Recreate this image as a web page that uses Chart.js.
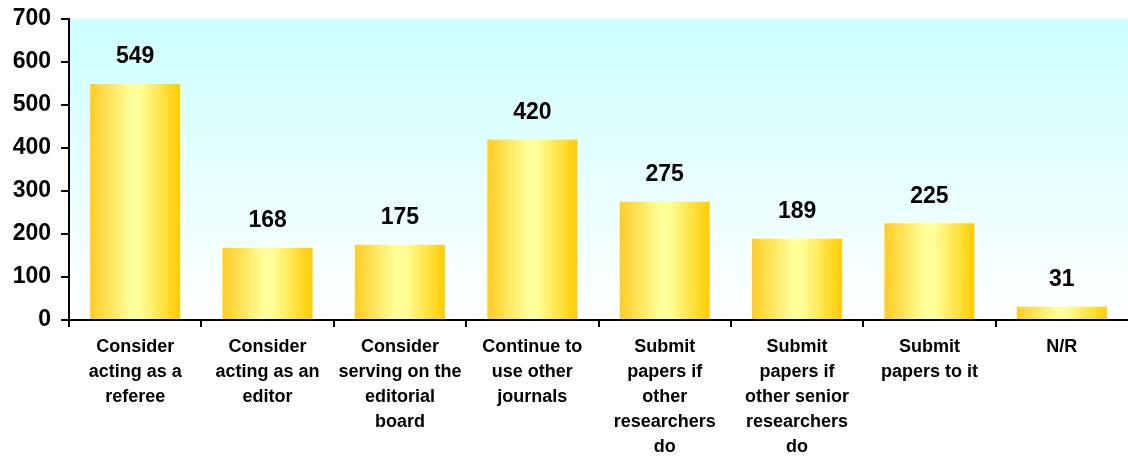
<!DOCTYPE html>
<html>
<head>
<meta charset="utf-8">
<script src="https://cdn.jsdelivr.net/npm/chart.js@4"></script>
<style>
  html, body { margin: 0; padding: 0; background: #fff; }
  #wrap { width: 1128px; height: 460px; position: relative; }
</style>
</head>
<body>
<div id="wrap"><canvas id="responseChart"></canvas></div>
<script>
// categories and counts
const categories = [
  ["Consider", "acting as a", "referee"],
  ["Consider", "acting as an", "editor"],
  ["Consider", "serving on the", "editorial", "board"],
  ["Continue to", "use other", "journals"],
  ["Submit", "papers if", "other", "researchers", "do"],
  ["Submit", "papers if", "other senior", "researchers", "do"],
  ["Submit", "papers to it"],
  ["N/R"],
];
const counts = [549, 168, 175, 420, 275, 189, 225, 31];
const yTicks = [0, 100, 200, 300, 400, 500, 600, 700];

const FONT = "'Liberation Sans', Arial, sans-serif";
const BAR_PCT = 0.68;

// light cyan fading to white behind the bars
const plotBackground = {
  id: "plotBackground",
  beforeDraw(chart) {
    const { ctx, chartArea: a } = chart;
    const g = ctx.createLinearGradient(0, a.top, 0, a.bottom);
    g.addColorStop(0, "#CCFFFF");
    g.addColorStop(1, "#FFFFFF");
    ctx.save();
    ctx.fillStyle = g;
    ctx.fillRect(a.left, a.top, a.right - a.left, a.bottom - a.top);
    ctx.restore();
  },
};

// value labels above each bar
const valueLabels = {
  id: "valueLabels",
  afterDatasetsDraw(chart) {
    const { ctx } = chart;
    const meta = chart.getDatasetMeta(0);
    ctx.save();
    ctx.font = "bold 23px " + FONT;
    ctx.fillStyle = "#000";
    ctx.textAlign = "center";
    ctx.textBaseline = "middle";
    meta.data.forEach((bar, i) => {
      ctx.fillText(String(counts[i]), bar.x, bar.y - 27);
    });
    ctx.restore();
  },
};

// gold edges, pale yellow middle, per bar
function barGradient(context) {
  const chart = context.chart;
  const xs = chart.scales.x;
  if (!xs || context.dataIndex === undefined) return "#FFCC00";
  const cx = xs.getPixelForValue(context.dataIndex);
  const half = (xs.width / categories.length) * BAR_PCT / 2;
  if (!isFinite(cx) || !isFinite(half) || half <= 0) return "#FFCC00";
  const g = chart.ctx.createLinearGradient(cx - half, 0, cx + half, 0);
  g.addColorStop(0, "#FFCC22");
  g.addColorStop(0.45, "#FFFF99");
  g.addColorStop(0.55, "#FFFF99");
  g.addColorStop(1, "#FFCC00");
  return g;
}

const ctx = document.getElementById("responseChart").getContext("2d");
const responseChart = new Chart(ctx, {
  type: "bar",
  data: {
    labels: categories,
    datasets: [
      {
        label: "Responses",
        data: counts,
        backgroundColor: barGradient,
        borderWidth: 0,
        barPercentage: BAR_PCT,
        categoryPercentage: 1,
      },
    ],
  },
  options: {
    responsive: true,
    maintainAspectRatio: false,
    animation: false,
    layout: { padding: { top: 19, right: 0, left: 0, bottom: 0 } },
    scales: {
      x: {
        grid: {
          offset: true,
          drawOnChartArea: false,
          // no tick mark at the far right end
          color: (c) => (c.type === "tick" ? "#000" : "rgba(0,0,0,0)"),
          lineWidth: 2,
          tickLength: 7,
        },
        border: { color: "#000", width: 2 },
        ticks: {
          color: "#000",
          font: { family: FONT, size: 18, weight: "bold", lineHeight: 25 / 18 },
          maxRotation: 0,
          autoSkip: false,
          padding: 8,
        },
        afterFit(scale) {
          scale.height = 140;
          scale.paddingLeft = 0;
          scale.paddingRight = 0;
        },
      },
      y: {
        min: 0,
        max: 700,
        afterBuildTicks(scale) {
          scale.ticks = yTicks.map((v) => ({ value: v }));
        },
        grid: {
          drawOnChartArea: false,
          color: "#000",
          lineWidth: 2,
          tickLength: 8,
        },
        border: { color: "#000", width: 2 },
        ticks: {
          color: "#000",
          font: { family: FONT, size: 23, weight: "bold" },
          padding: 10,
        },
        afterFit(scale) {
          scale.width = 69;
          scale.paddingTop = 0;
          scale.paddingBottom = 0;
        },
      },
    },
    plugins: {
      legend: { display: false },
      title: { display: false },
      tooltip: { enabled: false },
    },
  },
  plugins: [plotBackground, valueLabels],
});
</script>
</body>
</html>
